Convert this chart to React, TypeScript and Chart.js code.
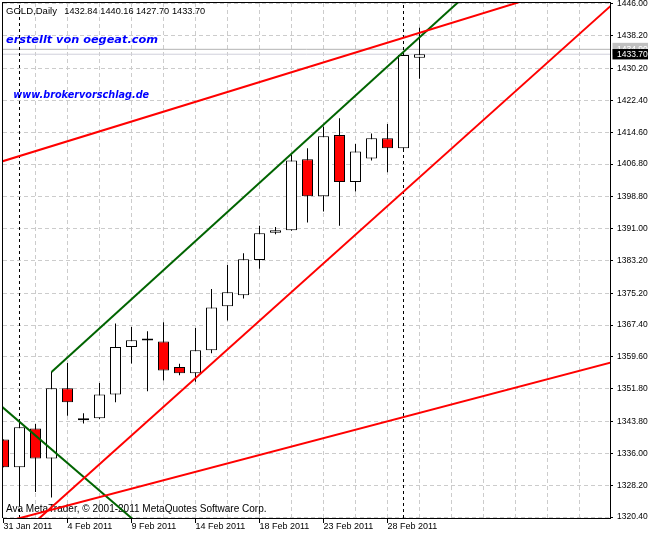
import React, { useEffect, useRef } from 'react';
import { Chart, registerables } from 'chart.js';

Chart.register(...registerables);

// ---- Data ----
const dates = [
  '31 Jan 2011', '1 Feb 2011', '2 Feb 2011', '3 Feb 2011', '4 Feb 2011', '6 Feb 2011', '7 Feb 2011',
  '8 Feb 2011', '9 Feb 2011', '10 Feb 2011', '11 Feb 2011', '13 Feb 2011', '14 Feb 2011', '15 Feb 2011',
  '16 Feb 2011', '17 Feb 2011', '18 Feb 2011', '20 Feb 2011', '21 Feb 2011', '22 Feb 2011', '23 Feb 2011',
  '24 Feb 2011', '25 Feb 2011', '27 Feb 2011', '28 Feb 2011', '1 Mar 2011', '2 Mar 2011',
];
const opens = [1339.4, 1332.6, 1342.1, 1334.7, 1351.9, 1344.1, 1344.6, 1350.4, 1362.0, 1363.6, 1363.4, 1357.1, 1355.6, 1361.2,
  1372.0, 1374.7, 1383.3, 1390.0, 1390.6, 1408.0, 1398.9, 1413.9, 1402.4, 1408.2, 1413.1, 1410.7, 1432.84];
const highs = [1339.4, 1343.8, 1343.2, 1355.9, 1358.1, 1345.8, 1353.2, 1367.8, 1366.9, 1365.9, 1368.1, 1357.9, 1366.7, 1376.2,
  1382.1, 1385.0, 1391.7, 1391.4, 1409.0, 1410.7, 1416.0, 1418.0, 1411.7, 1414.3, 1416.6, 1434.0, 1440.16];
const lows = [1332.6, 1323.6, 1326.5, 1325.2, 1345.2, 1343.3, 1344.4, 1348.5, 1358.0, 1351.2, 1353.8, 1355.1, 1353.5, 1360.5,
  1368.5, 1373.9, 1381.2, 1389.6, 1390.5, 1392.5, 1395.2, 1391.7, 1400.1, 1407.7, 1404.8, 1409.9, 1427.70];
const closes = [1332.6, 1342.4, 1334.7, 1351.9, 1348.5, 1344.6, 1350.4, 1362.0, 1363.7, 1363.6, 1356.3, 1355.6, 1361.2, 1371.7,
  1375.4, 1383.5, 1389.9, 1390.6, 1407.7, 1398.9, 1413.6, 1402.4, 1409.9, 1413.1, 1410.7, 1433.5, 1433.70];

const yTickLabels = ['1446.00', '1438.20', '1430.20', '1422.40', '1414.60', '1406.80', '1398.80', '1391.00', '1383.20',
  '1375.20', '1367.40', '1359.60', '1351.80', '1343.80', '1336.00', '1328.20', '1320.40'];

const separatorBars = [1, 25]; // first bar of each month
const askPrice = 1434.9;
const symbolTitle = 'GOLD,Daily';

// trend lines (bar index, price)
const upperRedLine = [{ x: -2, y: 1405.16 }, { x: 40, y: 1455.83 }];
const lowerRedLine = [{ x: -2, y: 1305.23 }, { x: 40, y: 1452.73 }];
const baseRedLine = [{ x: -2, y: 1317.03 }, { x: 40, y: 1360.33 }];
const greenChannelLine = [{ x: 3, y: 1355.9 }, { x: 40, y: 1487.7 }];
const greenDownLine = [{ x: -2, y: 1353.83 }, { x: 9, y: 1316.77 }];

const watermark1 = 'erstellt von oegeat.com';
const watermark2 = 'www.brokervorschlag.de';
const footer = 'Ava MetaTrader, © 2001-2011 MetaQuotes Software Corp.';

// ---- View ----
const X_MIN = -0.03125;
const X_MAX = 37.90625;
const Y_MIN = 1320.16;
const Y_MAX = 1446.24;
const GRID = '#cccccc';
const AXIS_FONT = '"Liberation Sans", Arial, sans-serif';

function fitFont(ctx: CanvasRenderingContext2D, text: string, style: string, family: string, target: number) {
  ctx.font = `${style} 20px ${family}`;
  const w = ctx.measureText(text).width;
  return `${style} ${(20 * target / w).toFixed(2)}px ${family}`;
}

export default function App() {
  const ref = useRef<HTMLCanvasElement>(null);

  useEffect(() => {
    const canvas = ref.current!;
    const idx = dates.map((_, i) => i);
    const bodies = idx.map(i => ({ x: i, y: [opens[i], closes[i]] }));
    const wicks = idx.map(i => ({ x: i, y: [lows[i], highs[i]] }));
    const bodyColors = idx.map(i => (closes[i] >= opens[i] ? '#ffffff' : '#ff0000'));
    const bid = closes[closes.length - 1];

    const lineDs = (data: any[], color: string, width: number, order: number, dash: number[] = []) => ({
      type: 'line' as const,
      data,
      borderColor: color,
      borderWidth: width,
      borderDash: dash,
      pointRadius: 0,
      tension: 0,
      fill: false,
      clip: 0,
      order,
    });

    const gridTicks: number[] = [];
    for (let v = 0; v <= X_MAX; v += 2) gridTicks.push(v);

    const textPlugin = {
      id: 'mtTexts',
      beforeDatasetsDraw(chart: any) {
        const ctx = chart.ctx as CanvasRenderingContext2D;
        ctx.save();
        ctx.textBaseline = 'alphabetic';
        ctx.textAlign = 'left';
        // header
        ctx.fillStyle = '#000';
        ctx.font = fitFont(ctx, symbolTitle, 'normal', AXIS_FONT, 51);
        ctx.fillText(symbolTitle, 6, 13.5);
        ctx.font = `9.2px ${AXIS_FONT}`;
        const last = dates.length - 1;
        const vals = [opens[last], highs[last], lows[last], closes[last]];
        const xs = [64.3, 100.3, 136, 172];
        vals.forEach((v, i) => ctx.fillText(v.toFixed(2), xs[i], 13.5));
        // watermarks
        ctx.fillStyle = '#0000ff';
        ctx.font = fitFont(ctx, watermark1, 'italic bold', '"DejaVu Sans"', 152);
        ctx.fillText(watermark1, 6, 43.3);
        ctx.font = fitFont(ctx, watermark2, 'italic bold', '"DejaVu Sans"', 136);
        ctx.fillText(watermark2, 13.3, 97.7);
        // footer
        ctx.fillStyle = '#000';
        ctx.font = fitFont(ctx, footer, 'normal', AXIS_FONT, 261);
        ctx.fillText(footer, 6, 511.5);
        ctx.restore();
      },
      afterDraw(chart: any) {
        const ctx = chart.ctx as CanvasRenderingContext2D;
        const ys = chart.scales.y;
        const area = chart.chartArea;
        ctx.save();
        // frame
        ctx.fillStyle = '#000';
        ctx.fillRect(2, 2, area.right - 2 + 1, 1);
        ctx.fillRect(2, 2, 1, area.bottom - 2);
        // price labels
        const yA = ys.getPixelForValue(askPrice);
        const yB = ys.getPixelForValue(bid);
        ctx.font = `8.5px ${AXIS_FONT}`;
        ctx.textBaseline = 'middle';
        ctx.fillStyle = '#c0c0c0';
        ctx.fillRect(612.5, yA - 6.5, 36, 12);
        ctx.fillStyle = '#ffffff';
        ctx.fillText(askPrice.toFixed(2), 617, yA);
        ctx.fillStyle = '#000';
        ctx.fillRect(612.5, yB - 5.2, 36, 10.4);
        ctx.fillStyle = '#ffffff';
        ctx.fillText(bid.toFixed(2), 617, yB + 0.3);
        ctx.restore();
      },
    };

    const chart = new Chart(canvas, {
      type: 'bar',
      data: {
        datasets: [
          lineDs(upperRedLine, '#ff0000', 2, 0),
          lineDs(lowerRedLine, '#ff0000', 2, 0),
          lineDs(baseRedLine, '#ff0000', 2, 0),
          lineDs(greenChannelLine, '#006400', 2, 0),
          lineDs(greenDownLine, '#006400', 2, 0),
          {
            type: 'bar',
            data: bodies as any,
            backgroundColor: bodyColors,
            borderColor: '#000000',
            borderWidth: 1,
            borderSkipped: false,
            barThickness: 11,
            grouped: false,
            minBarLength: 2,
            inflateAmount: 0,
            clip: 0,
            order: 1,
          } as any,
          {
            type: 'bar',
            data: wicks as any,
            backgroundColor: '#000000',
            borderWidth: 0,
            barThickness: 1,
            grouped: false,
            inflateAmount: 0,
            clip: 0,
            order: 2,
          } as any,
          ...separatorBars.map(b =>
            lineDs([{ x: b, y: Y_MIN }, { x: b, y: Y_MAX }], '#000000', 1, 3, [3, 3])),
          lineDs([{ x: X_MIN, y: askPrice }, { x: X_MAX, y: askPrice }], '#b4b4b4', 1, 3),
          lineDs([{ x: X_MIN, y: bid }, { x: X_MAX, y: bid }], '#d0d0dc', 1, 3),
        ] as any,
      },
      options: {
        responsive: false,
        animation: false,
        devicePixelRatio: 1,
        events: [],
        layout: { padding: { top: 3, left: 3, right: 0, bottom: 0 } },
        plugins: { legend: { display: false }, tooltip: { enabled: false } },
        scales: {
          x: {
            type: 'linear',
            min: X_MIN,
            max: X_MAX,
            bounds: 'data',
            offset: false,
            afterBuildTicks: (s: any) => { s.ticks = gridTicks.map(v => ({ value: v })); },
            afterFit: (s: any) => {
              s.height = 17;
              s.paddingLeft = 0; s.paddingRight = 0; s.paddingTop = 0; s.paddingBottom = 0;
            },
            grid: {
              color: (c: any) => (c.tick && c.tick.value === 0 ? 'rgba(0,0,0,0)' : GRID),
              lineWidth: 1,
              tickLength: 5,
              tickWidth: 1,
              tickColor: (c: any) => (c.tick && c.tick.value % 4 === 0 && dates[c.tick.value] ? '#000000' : 'rgba(0,0,0,0)'),
              offset: false,
            },
            border: { display: true, color: '#000000', width: 1, dash: [4, 3] },
            ticks: {
              autoSkip: false,
              maxRotation: 0,
              minRotation: 0,
              align: 'start',
              padding: -2,
              color: '#000000',
              font: { family: AXIS_FONT, size: 9 },
              callback: (v: any) => (v % 4 === 0 && dates[v] ? dates[v] : ''),
            },
          },
          y: {
            type: 'linear',
            position: 'right',
            min: Y_MIN,
            max: Y_MAX,
            bounds: 'data',
            afterBuildTicks: (s: any) => { s.ticks = yTickLabels.map(t => ({ value: parseFloat(t) })); },
            afterFit: (s: any) => {
              s.width = 38;
              s.paddingLeft = 0; s.paddingRight = 0; s.paddingTop = 0; s.paddingBottom = 0;
            },
            grid: { color: GRID, lineWidth: 1, tickLength: 3, tickColor: '#000000', tickWidth: 1 },
            border: { display: true, color: '#000000', width: 1, dash: [4, 3] },
            ticks: {
              autoSkip: false,
              padding: 4,
              color: '#000000',
              font: { family: AXIS_FONT, size: 8.5 },
              callback: (v: any) => Number(v).toFixed(2),
            },
          },
        },
      } as any,
      plugins: [textPlugin],
    });

    return () => chart.destroy();
  }, []);

  return (
    <div style={{ position: 'absolute', left: 0, top: 0, width: 648, height: 535, background: '#fff' }}>
      <canvas ref={ref} width={648} height={535} style={{ display: 'block' }} />
    </div>
  );
}
